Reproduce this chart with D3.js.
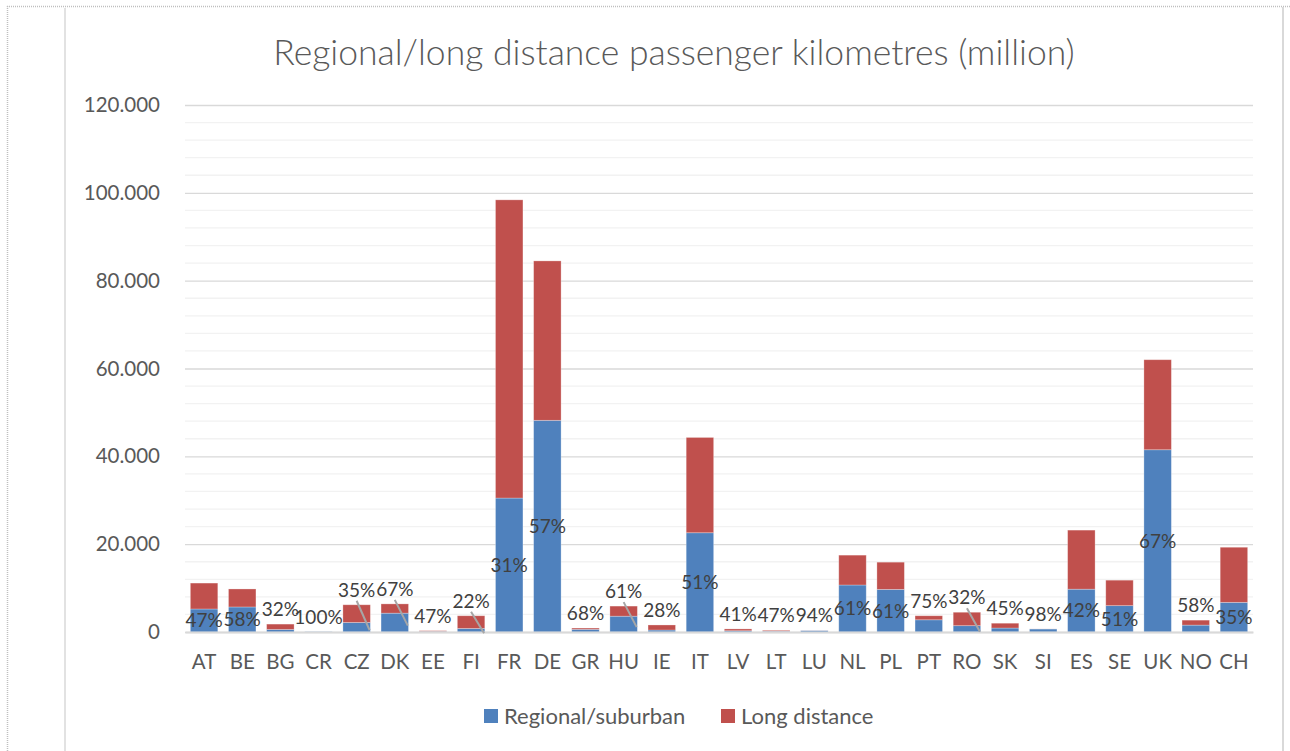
<!DOCTYPE html>
<html>
<head>
<meta charset="utf-8">
<script src="https://cdn.jsdelivr.net/npm/d3@7"></script>
<style>
  html, body { margin: 0; padding: 0; background: #fff; }
  svg { display: block; }
</style>
</head>
<body>
<div id="chart"></div>
<script>
// data, million passenger km
const countries = ["AT", "BE", "BG", "CR", "CZ", "DK", "EE", "FI", "FR", "DE", "GR", "HU", "IE", "IT",
  "LV", "LT", "LU", "NL", "PL", "PT", "RO", "SK", "SI", "ES", "SE", "UK", "NO", "CH"]
const regional = [5240, 5700, 580, 60, 2170, 4290, 140, 810, 30500, 48200, 610, 3600, 450, 22600,
  290, 180, 330, 10700, 9700, 2780, 1440, 900, 690, 9750, 6000, 41500, 1570, 6750]
const longDistance = [5900, 4100, 1220, 0, 4030, 2110, 160, 2890, 67900, 36300, 290, 2300, 1150, 21700,
  410, 200, 20, 6800, 6200, 920, 3060, 1100, 10, 13450, 5800, 20500, 1130, 12550]
const shareLabels = ["47%", "58%", "32%", "100%", "35%", "67%", "47%", "22%", "31%", "57%", "68%", "61%", "28%", "51%",
  "41%", "47%", "94%", "61%", "61%", "75%", "32%", "45%", "98%", "42%", "51%", "67%", "58%", "35%"]
const seriesNames = ["Regional/suburban", "Long distance"]
const yTicks = [0, 20000, 40000, 60000, 80000, 100000, 120000]

const width = 1290
const height = 751
const marginLeft = 185
const marginRight = 37       // plot ends at 1253
const plotTop = 105
const plotBottom = 632
const colors = ["#4F81BD", "#C0504D"]
const textColor = "#595959"
const font = "Lato, 'Open Sans', sans-serif"

const locale = d3.formatLocale({decimal: ",", thousands: ".", grouping: [3], currency: ["", ""]})
const yFormat = locale.format(",d")

const svg = d3.select("#chart").append("svg")
  .attr("width", width)
  .attr("height", height)
  .attr("viewBox", [0, 0, width, height])
  .style("font-family", font)

// outer dotted frame + chart area border
svg.append("line").attr("x1", 7).attr("x2", width).attr("y1", 6.5).attr("y2", 6.5)
  .attr("stroke", "#BFBFBF").attr("stroke-width", 1.5).attr("stroke-dasharray", "1,1")
svg.append("line").attr("x1", 7.5).attr("x2", 7.5).attr("y1", 6).attr("y2", height)
  .attr("stroke", "#BFBFBF").attr("stroke-width", 1.5).attr("stroke-dasharray", "1,1")
svg.append("line").attr("x1", 65).attr("x2", 65).attr("y1", 8).attr("y2", height)
  .attr("stroke", "#D9D9D9").attr("stroke-width", 1.5)
svg.append("line").attr("x1", 1283).attr("x2", 1283).attr("y1", 7).attr("y2", height)
  .attr("stroke", "#D9D9D9").attr("stroke-width", 2)

const data = countries.map((c, i) => ({country: c, regional: regional[i], longDistance: longDistance[i], label: shareLabels[i]}))
const stacked = d3.stack().keys(["regional", "longDistance"])(data)

const x = d3.scaleBand(countries, [marginLeft, width - marginRight]).paddingInner(0.28).paddingOuter(0.14)
const y = d3.scaleLinear([0, 120000], [plotBottom, plotTop])

// minor gridlines every 4.000
svg.append("g")
  .selectAll("line")
  .data(d3.range(4000, 120000, 4000).filter(v => v % 20000 !== 0))
  .join("line")
  .attr("x1", marginLeft).attr("x2", width - marginRight)
  .attr("y1", d => y(d)).attr("y2", d => y(d))
  .attr("stroke", "#F2F2F2").attr("stroke-width", 1.3)

// y axis with major gridlines
svg.append("g")
  .attr("transform", `translate(${marginLeft},0)`)
  .call(d3.axisLeft(y).tickValues(yTicks).tickFormat(d => d === 0 ? "0" : yFormat(d)).tickSize(0).tickPadding(25))
  .call(g => g.select(".domain").remove())
  .call(g => g.selectAll(".tick line").clone()
    .attr("x2", width - marginLeft - marginRight)
    .attr("stroke", "#D9D9D9")
    .attr("stroke-width", 1.3))
  .call(g => g.selectAll(".tick text")
    .attr("fill", textColor)
    .style("font-size", "20.5px")
    .style("font-family", font))

// stacked bars
svg.append("g")
  .selectAll("g")
  .data(stacked)
  .join("g")
  .attr("fill", (d, i) => colors[i])
  .selectAll("rect")
  .data(d => d)
  .join("rect")
  .attr("x", d => x(d.data.country))
  .attr("y", d => y(d[1]))
  .attr("height", d => y(d[0]) - y(d[1]))
  .attr("width", x.bandwidth())
  .attr("stroke", "#fff")
  .attr("stroke-opacity", 0.35)
  .attr("stroke-width", 0.8)

// x axis
svg.append("g")
  .attr("transform", `translate(0,${plotBottom})`)
  .call(d3.axisBottom(x).tickSize(0).tickPadding(22))
  .call(g => g.select(".domain").attr("stroke", "#D9D9D9").attr("stroke-width", 2))
  .call(g => g.selectAll(".tick text")
    .attr("fill", textColor)
    .style("font-size", "20.5px")
    .style("font-family", font))

// share labels: inside the regional segment when it fits, else above the bar
const labelData = data.map(d => {
  const cx = x(d.country) + x.bandwidth() / 2
  const segTop = y(d.regional)
  const segH = plotBottom - segTop
  const barTop = y(d.regional + d.longDistance)
  const inside = segH >= 22
  const ly = inside ? (segTop + plotBottom) / 2 : barTop - 15
  const segMid = (segTop + plotBottom) / 2
  return {cx, ly, inside, segMid, label: d.label}
})

svg.append("g")
  .attr("stroke", "#A6A6A6")
  .attr("stroke-width", 2)
  .selectAll("line")
  .data(labelData.filter(d => !d.inside && d.segMid - (d.ly + 10) > 17))
  .join("line")
  .attr("x1", d => d.cx).attr("y1", d => d.ly + 11)
  .attr("x2", d => d.cx + 13).attr("y2", d => d.segMid + 3)

svg.append("g")
  .selectAll("text")
  .data(labelData)
  .join("text")
  .attr("x", d => d.cx)
  .attr("y", d => d.ly)
  .attr("dy", "0.36em")
  .attr("text-anchor", "middle")
  .attr("fill", "#404040")
  .style("font-size", "19px")
  .text(d => d.label)

// title
svg.append("text")
  .attr("x", 674)
  .attr("y", 65)
  .attr("text-anchor", "middle")
  .attr("fill", textColor)
  .style("font-size", "35.5px")
  .style("font-weight", 300)
  .text("Regional/long distance passenger kilometres (million)")

// legend
const legend = svg.append("g").attr("transform", "translate(484,716)")
const legendX = [0, 237]
seriesNames.forEach((name, i) => {
  const item = legend.append("g").attr("transform", `translate(${legendX[i]},0)`)
  item.append("rect").attr("x", 0).attr("y", -7).attr("width", 14).attr("height", 14).attr("fill", colors[i])
  item.append("text").attr("x", 20).attr("y", 0).attr("dy", "0.36em")
    .attr("fill", textColor).style("font-size", "22px").text(name)
})
</script>
</body>
</html>
